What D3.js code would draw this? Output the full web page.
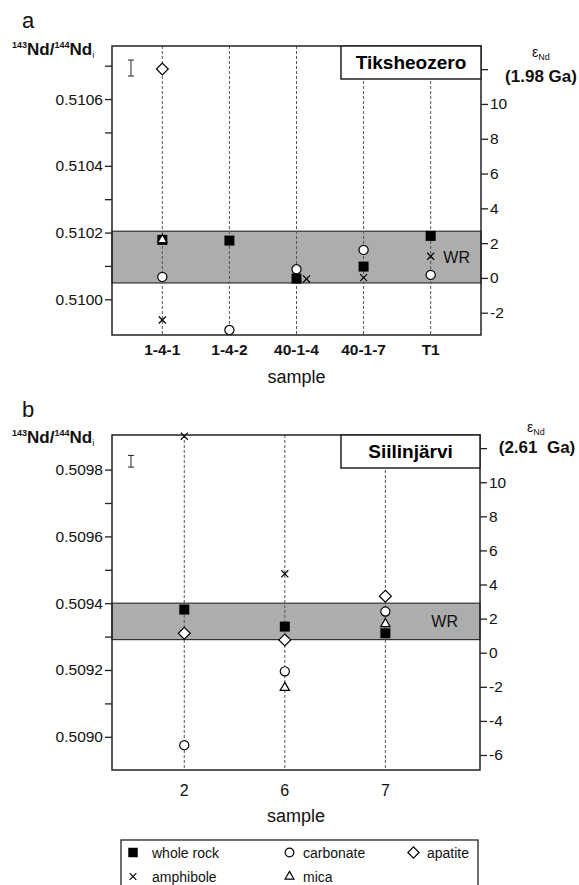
<!DOCTYPE html>
<html>
<head>
<meta charset="utf-8">
<script src="https://cdn.jsdelivr.net/npm/d3@7"></script>
<style>
  body { margin: 0; background: #fff; }
  svg { display: block; font-family: "Liberation Sans", Arial, sans-serif; }
</style>
</head>
<body>
<div id="chart"></div>
<script>
// ---- panel a : Tiksheozero ----
const samplesA = ["1-4-1", "1-4-2", "40-1-4", "40-1-7", "T1"];
const wholeRockA = [0.510178, 0.510176, 0.510062, 0.510098, 0.510190];
const carbonateA = [0.510067, 0.509908, 0.510090, 0.510148, 0.510073];
const apatiteA   = [0.510690, null, null, null, null];
const amphiboleA = [0.509938, null, 0.510061, 0.510065, 0.510129];
const micaA      = [0.510178, null, null, null, null];
const wrBandA = [0.510049, 0.510204];
const errA = [0.510693, 0.000024];
const ratioTicksA = [0.5100, 0.5101, 0.5102, 0.5103, 0.5104, 0.5105, 0.5106, 0.5107];
const ratioLabelsA = ["0.5100", "0.5102", "0.5104", "0.5106"];
const epsTicksA = [12, 10, 8, 6, 4, 2, 0, -2];

// ---- panel b : Siilinjärvi ----
const samplesB = ["2", "6", "7"];
const wholeRockB = [0.509381, 0.509330, 0.509310];
const carbonateB = [0.508975, 0.509196, 0.509375];
const apatiteB   = [0.509310, 0.509290, 0.509421];
const amphiboleB = [0.509900, 0.509488, null];
const micaB      = [null, 0.509147, 0.509338];
const wrBandB = [0.509291, 0.509400];
const errB = [0.509825, 0.0000175];
const ratioTicksB = [0.5090, 0.5091, 0.5092, 0.5093, 0.5094, 0.5095, 0.5096, 0.5097, 0.5098];
const ratioLabelsB = ["0.5090", "0.5092", "0.5094", "0.5096", "0.5098"];
const epsTicksB = [12, 10, 8, 6, 4, 2, 0, -2, -4, -6];

const phases = ["whole rock", "carbonate", "apatite", "amphibole", "mica"];

const W = 579, H = 885;
const svg = d3.select("#chart").append("svg")
    .attr("width", W).attr("height", H);
svg.append("rect").attr("width", W).attr("height", H).attr("fill", "#fff");

const fmt4 = d3.format(".4f");

const symbols = {
    "whole rock": { type: d3.symbolSquare, size: 100, fill: "#000", stroke: "none" },
    "carbonate":  { type: d3.symbolCircle, size: 66, fill: "#fff", stroke: "#000" },
    "apatite":    { type: d3.symbolDiamond2, size: 90, fill: "#fff", stroke: "#000" },
    "amphibole":  { type: d3.symbolTimes, size: 34, fill: "none", stroke: "#000" },
    "mica":       { type: d3.symbolTriangle2, size: 62, fill: "#fff", stroke: "#000" }
};

function drawPanel(p) {
    const g = svg.append("g");

    const x = d3.scalePoint()
        .domain(p.samples)
        .range([p.left, p.right])
        .padding(p.pad)
        .align(p.align);

    const y = d3.scaleLinear().domain(p.ratioDomain).range([p.bottom, p.top]);
    const yR = d3.scaleLinear().domain(p.epsDomain).range([p.bottom, p.top]);

    // WR band
    g.append("rect")
        .attr("x", p.left).attr("width", p.right - p.left)
        .attr("y", y(p.band[1])).attr("height", y(p.band[0]) - y(p.band[1]))
        .attr("fill", "#adadad").attr("stroke", "#333").attr("stroke-width", 1.2);

    g.append("text")
        .attr("x", p.wrX).attr("y", (y(p.band[0]) + y(p.band[1])) / 2 + 6)
        .attr("text-anchor", "end").attr("font-size", 16).attr("fill", "#111")
        .text("WR");

    // dashed sample lines
    g.selectAll(".vline").data(p.samples).enter().append("line")
        .attr("x1", d => x(d)).attr("x2", d => x(d))
        .attr("y1", p.top).attr("y2", p.bottom)
        .attr("stroke", "#555").attr("stroke-width", 1)
        .attr("stroke-dasharray", "3,2");

    // points
    const pts = [];
    p.series.forEach((vals, k) => {
        vals.forEach((v, i) => {
            if (v == null) return;
            let dx = 0;
            // amphibole sitting on the whole rock value is drawn beside it
            if (phases[k] === "amphibole" && p.series[0][i] != null &&
                Math.abs(v - p.series[0][i]) < 0.000005) dx = 10;
            pts.push({ phase: phases[k], sample: p.samples[i], value: v, dx: dx });
        });
    });

    g.selectAll(".pt").data(pts).enter().append("path")
        .attr("d", d => d3.symbol().type(symbols[d.phase].type).size(symbols[d.phase].size)())
        .attr("transform", d => `translate(${x(d.sample) + d.dx},${y(d.value)})`)
        .attr("fill", d => symbols[d.phase].fill)
        .attr("stroke", d => symbols[d.phase].stroke)
        .attr("stroke-width", 1.2);

    // 2 sigma error bar
    const ex = p.left + 19;
    const e0 = y(p.err[0] - p.err[1]), e1 = y(p.err[0] + p.err[1]);
    g.append("path")
        .attr("d", `M${ex - 3},${e1}H${ex + 3}M${ex},${e1}V${e0}M${ex - 3},${e0}H${ex + 3}`)
        .attr("stroke", "#222").attr("stroke-width", 1).attr("fill", "none");

    // frame
    g.append("rect")
        .attr("x", p.left).attr("y", p.top)
        .attr("width", p.right - p.left).attr("height", p.bottom - p.top)
        .attr("fill", "none").attr("stroke", "#222").attr("stroke-width", 1.5);

    // title box
    g.append("rect")
        .attr("x", p.boxX).attr("y", p.top)
        .attr("width", p.right - p.boxX).attr("height", 33)
        .attr("fill", "#fff").attr("stroke", "#222").attr("stroke-width", 1.5);
    g.append("text")
        .attr("x", (p.boxX + p.right) / 2).attr("y", p.top + 23)
        .attr("text-anchor", "middle").attr("font-size", 19).attr("font-weight", "bold")
        .text(p.title);

    // left axis
    const la = g.append("g")
        .attr("transform", `translate(${p.left},0)`)
        .call(d3.axisLeft(y).tickValues(p.ratioTicks)
            .tickFormat(d => p.ratioLabels.includes(fmt4(d)) ? fmt4(d) : "")
            .tickSize(7).tickPadding(2));
    la.select(".domain").remove();
    la.selectAll("line").attr("stroke", "#222").attr("stroke-width", 1.3);
    la.selectAll("text").attr("font-size", 15.5).attr("fill", "#111")
        .attr("font-family", "Liberation Sans, Arial, sans-serif");

    // right axis
    const ra = g.append("g")
        .attr("transform", `translate(${p.right},0)`)
        .call(d3.axisRight(yR).tickValues(p.epsTicks)
            .tickFormat(d => d === 12 ? "" : String(d))
            .tickSize(7).tickPadding(2));
    ra.select(".domain").remove();
    ra.selectAll("line").attr("stroke", "#222").attr("stroke-width", 1.3);
    ra.selectAll("text").attr("font-size", 15.5).attr("fill", "#111")
        .attr("font-family", "Liberation Sans, Arial, sans-serif");

    // bottom category labels
    g.selectAll(".cat").data(p.samples).enter().append("text")
        .attr("x", d => x(d)).attr("y", p.bottom + p.catDy)
        .attr("text-anchor", "middle").attr("font-size", p.catSize)
        .attr("font-weight", p.catWeight).attr("fill", "#111")
        .text(d => d);

    g.append("text")
        .attr("x", (p.left + p.right) / 2).attr("y", p.bottom + p.sampleDy)
        .attr("text-anchor", "middle").attr("font-size", 18).attr("fill", "#111")
        .text("sample");

    // panel letter
    g.append("text").attr("x", 22).attr("y", p.top - p.letterDy)
        .attr("font-size", 22).attr("fill", "#111").text(p.letter);

    // left axis title
    const lt = g.append("text").attr("x", 12).attr("y", p.top + p.ylabDy)
        .attr("font-size", 17).attr("font-weight", "bold").attr("fill", "#111");
    lt.append("tspan").attr("font-size", 9).attr("dy", -7).text("143");
    lt.append("tspan").attr("dy", 7).text("Nd/");
    lt.append("tspan").attr("font-size", 9).attr("dy", -7).text("144");
    lt.append("tspan").attr("dy", 7).text("Nd");
    lt.append("tspan").attr("font-size", 9).attr("font-weight", "normal").attr("dy", 3).text("i");

    // right axis title
    const rt = g.append("text").attr("x", p.epsX).attr("y", p.top + p.epsDy)
        .attr("text-anchor", "middle").attr("font-size", 14).attr("fill", "#111");
    rt.append("tspan").text("ε");
    rt.append("tspan").attr("font-size", 9).attr("dy", 3).text("Nd");
    g.append("text").attr("x", p.ageX).attr("y", p.top + p.ageDy)
        .attr("text-anchor", "middle").attr("font-size", 17).attr("font-weight", "bold")
        .attr("fill", "#111").attr("xml:space", "preserve")
        .text(p.age);
}

drawPanel({
    letter: "a", title: "Tiksheozero", age: "(1.98 Ga)",
    samples: samplesA,
    series: [wholeRockA, carbonateA, apatiteA, amphiboleA, micaA],
    band: wrBandA, err: errA,
    ratioTicks: ratioTicksA, ratioLabels: ratioLabelsA, epsTicks: epsTicksA,
    ratioDomain: [0.509893, 0.510759], epsDomain: [-3.28, 13.33],
    left: 112, right: 481, top: 46, bottom: 335,
    pad: 0.75, align: 0.5,
    boxX: 341, wrX: 470,
    catDy: 20, catSize: 15.5, catWeight: "bold", sampleDy: 48,
    letterDy: 18, ylabDy: 9, epsX: 541, epsDy: 11, ageX: 541, ageDy: 36
});

drawPanel({
    letter: "b", title: "Siilinjärvi", age: "(2.61  Ga)",
    samples: samplesB,
    series: [wholeRockB, carbonateB, apatiteB, amphiboleB, micaB],
    band: wrBandB, err: errB,
    ratioTicks: ratioTicksB, ratioLabels: ratioLabelsB, epsTicks: epsTicksB,
    ratioDomain: [0.5089006, 0.5099036], epsDomain: [-6.88, 12.77],
    left: 112, right: 480, top: 435, bottom: 770,
    pad: 0.83, align: 0.433,
    boxX: 341, wrX: 458,
    catDy: 26, catSize: 16, catWeight: "normal", sampleDy: 52,
    letterDy: 18, ylabDy: 8, epsX: 536, epsDy: -3, ageX: 537, ageDy: 18
});

// ---- legend ----
const legendCols = [133, 289.5, 413.5];
const legendText = [152, 303, 427];
const legendRows = [852.5, 876.5];
const legendItems = [
    { phase: "whole rock", col: 0, row: 0 },
    { phase: "carbonate", col: 1, row: 0 },
    { phase: "apatite", col: 2, row: 0 },
    { phase: "amphibole", col: 0, row: 1 },
    { phase: "mica", col: 1, row: 1 }
];

svg.append("rect")
    .attr("x", 121).attr("y", 840).attr("width", 357).attr("height", 60)
    .attr("fill", "#fff").attr("stroke", "#222").attr("stroke-width", 1.3);

const lg = svg.selectAll(".leg").data(legendItems).enter().append("g")
    .attr("transform", d => `translate(0,${legendRows[d.row]})`);
lg.append("path")
    .attr("d", d => d3.symbol().type(symbols[d.phase].type).size(symbols[d.phase].size * 0.9)())
    .attr("transform", d => `translate(${legendCols[d.col]},0)`)
    .attr("fill", d => symbols[d.phase].fill)
    .attr("stroke", d => symbols[d.phase].stroke)
    .attr("stroke-width", 1.2);
lg.append("text")
    .attr("x", d => legendText[d.col]).attr("y", 5)
    .attr("font-size", 14).attr("fill", "#111")
    .text(d => d.phase);
</script>
</body>
</html>
